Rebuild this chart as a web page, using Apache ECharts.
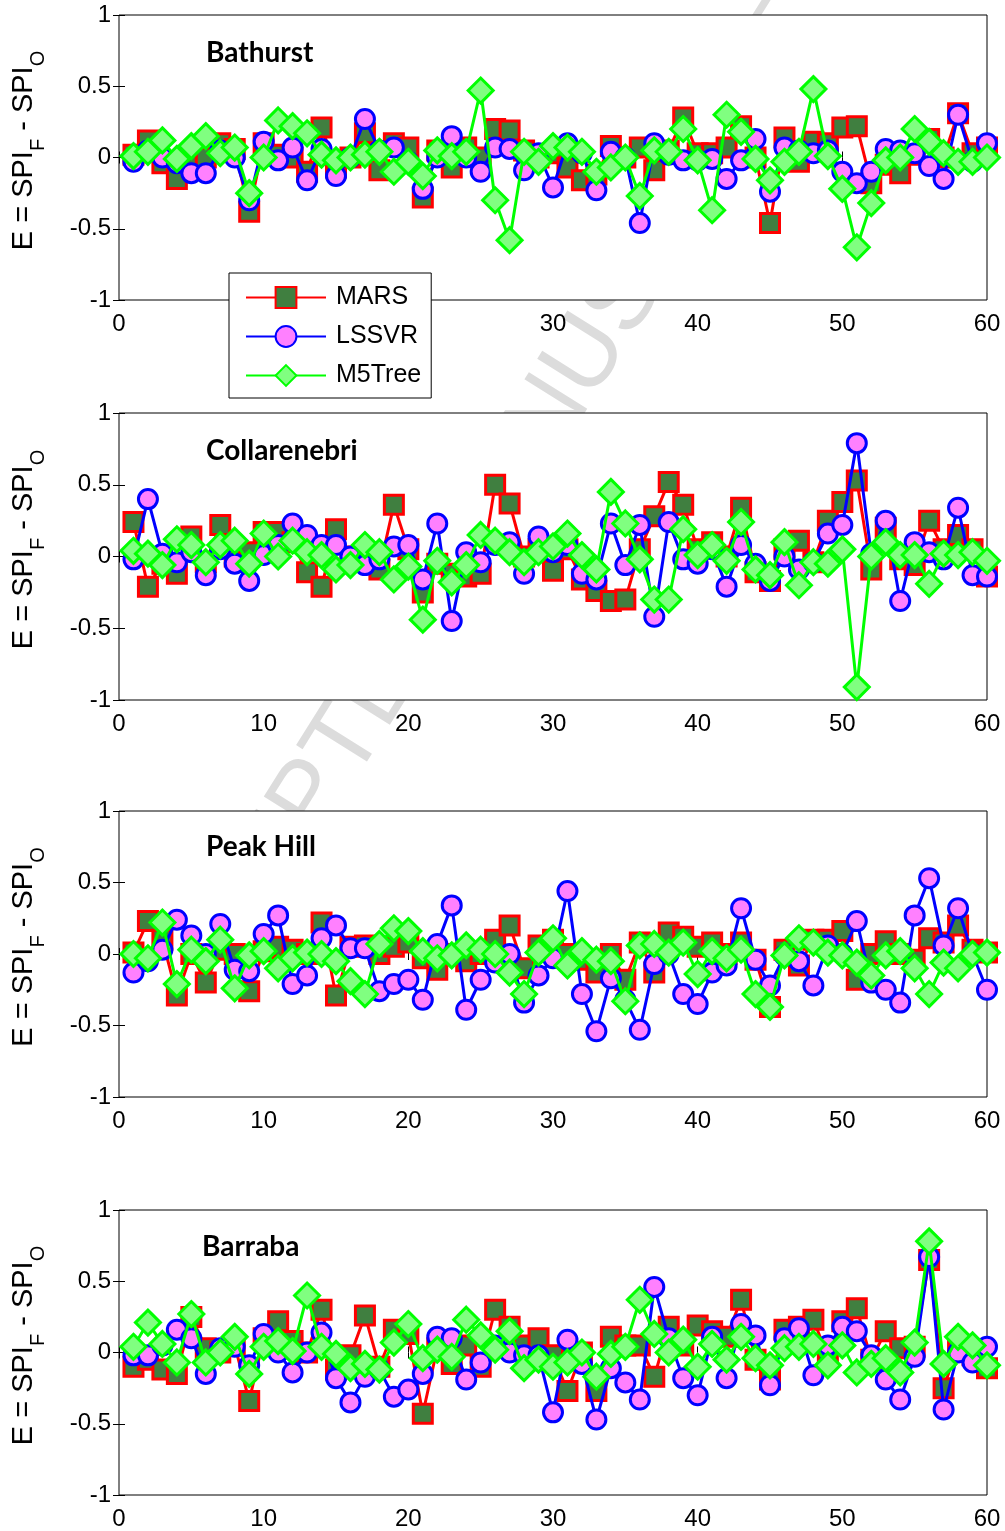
<!DOCTYPE html>
<html>
<head>
<meta charset="utf-8">
<script src="https://cdn.jsdelivr.net/npm/echarts@6/dist/echarts.min.js"></script>
<style>
  html, body { margin: 0; padding: 0; background: #fff; }
  #chart { width: 1005px; height: 1531px; }
</style>
</head>
<body>
<div id="chart"></div>
<script>
// Forecast error E = SPI_F - SPI_O for each test month, four stations, three models
const months = [1,2,3,4,5,6,7,8,9,10,11,12,13,14,15,16,17,18,19,20,
  21,22,23,24,25,26,27,28,29,30,31,32,33,34,35,36,37,38,39,40,
  41,42,43,44,45,46,47,48,49,50,51,52,53,54,55,56,57,58,59,60];
const xTicks = [0, 10, 20, 30, 40, 50, 60];
const yTicks = [-1, -0.5, 0, 0.5, 1];
const stations = ['Bathurst', 'Collarenebri', 'Peak Hill', 'Barraba'];
const models = ['MARS', 'LSSVR', 'M5Tree'];
// y-axis title pieces: [text, isSubscript]
const yTitleParts = [['E = SPI', false], ['F', true], [' - SPI', false], ['O', true]];

const bathurstMARS = [0.02,0.12,-0.04,-0.15,0.0,0.0,0.1,0.06,-0.38,0.1,
  0.02,0.0,-0.1,0.21,-0.07,0.0,0.17,-0.09,0.1,0.07,
  -0.28,0.05,-0.07,0.07,0.0,0.2,0.19,0.05,0.0,0.03,
  -0.07,-0.16,-0.12,0.08,0.0,0.07,-0.09,0.05,0.28,0.03,
  0.03,0.07,0.22,0.0,-0.46,0.14,-0.03,0.11,0.1,0.21,
  0.22,-0.18,-0.05,-0.11,0.02,0.13,0.0,0.31,0.03,0.07];
const bathurstLSSVR = [-0.03,0.05,0.0,-0.04,-0.11,-0.11,0.05,0.0,-0.3,0.11,
  -0.02,0.07,-0.16,0.06,-0.13,0.0,0.27,0.05,0.07,-0.03,
  -0.22,0.0,0.15,0.0,-0.1,0.07,0.06,-0.09,0.03,-0.21,
  0.1,0.03,-0.23,0.04,0.0,-0.46,0.1,0.02,-0.02,-0.02,
  -0.01,-0.15,-0.02,0.13,-0.24,0.07,0.05,0.03,0.05,-0.1,
  -0.18,-0.1,0.06,0.05,0.03,-0.06,-0.15,0.3,-0.03,0.1];
const bathurstM5Tree = [0.01,0.04,0.12,-0.01,0.08,0.15,0.03,0.07,-0.25,0.0,
  0.26,0.22,0.17,0.02,-0.02,0.0,0.02,0.04,-0.1,-0.03,
  -0.13,0.05,0.01,0.04,0.47,-0.3,-0.58,0.04,-0.03,0.08,
  0.07,0.04,-0.1,-0.07,0.0,-0.27,0.05,0.04,0.2,-0.02,
  -0.37,0.3,0.18,-0.01,-0.16,-0.03,0.04,0.48,0.01,-0.22,
  -0.63,-0.32,-0.02,0.0,0.2,0.11,0.03,-0.03,-0.03,0.0];

const collarenebriMARS = [0.24,-0.21,-0.05,-0.12,0.14,-0.04,0.22,0.0,0.03,0.17,
  0.17,0.1,-0.11,-0.21,0.19,0.0,0.02,-0.09,0.36,0.05,
  -0.25,-0.05,-0.12,-0.14,-0.12,0.5,0.37,0.0,0.05,-0.1,
  0.05,-0.16,-0.24,-0.31,-0.3,0.05,0.28,0.52,0.36,0.05,
  0.1,0.0,0.34,-0.11,-0.17,0.05,0.11,-0.04,0.25,0.38,
  0.53,-0.09,0.2,-0.02,-0.06,0.25,0.05,0.15,0.05,-0.14];
const collarenebriLSSVR = [-0.02,0.4,0.02,-0.04,0.03,-0.13,0.05,-0.05,-0.17,0.01,
  0.08,0.23,0.15,0.08,0.08,0.0,-0.06,-0.02,0.07,0.08,
  -0.16,0.23,-0.45,0.03,-0.04,0.08,0.1,-0.12,0.14,0.03,
  0.08,-0.12,-0.16,0.23,-0.06,0.22,-0.42,0.24,-0.02,-0.05,
  0.05,-0.21,0.08,-0.05,-0.17,0.0,-0.09,-0.04,0.16,0.22,
  0.79,0.02,0.25,-0.31,0.1,0.03,-0.02,0.34,-0.13,-0.14];
const collarenebriM5Tree = [0.04,0.02,-0.06,0.12,0.08,-0.04,0.08,0.11,-0.05,0.16,
  0.0,0.11,0.03,0.01,-0.09,-0.06,0.08,0.03,-0.16,-0.07,
  -0.44,-0.03,-0.18,-0.06,0.15,0.11,0.03,-0.04,0.03,0.07,
  0.16,0.01,-0.09,0.45,0.23,-0.02,-0.3,-0.3,0.19,0.01,
  0.08,-0.03,0.24,-0.09,-0.13,0.1,-0.2,-0.04,-0.05,0.05,
  -0.91,0.0,0.1,0.01,0.01,-0.19,0.02,0.01,0.03,-0.03];

const peakHillMARS = [0.01,0.23,0.1,-0.29,0.0,-0.2,0.03,0.0,-0.26,0.02,
  0.05,0.03,0.0,0.22,-0.29,0.05,0.06,0.0,0.05,0.08,
  -0.03,-0.11,0.0,-0.05,0.0,0.1,0.2,-0.1,0.06,0.1,
  0.0,-0.04,-0.13,0.0,-0.18,0.08,-0.13,0.15,0.12,0.05,
  0.08,0.0,0.08,-0.04,-0.37,0.03,-0.08,0.1,0.1,0.16,
  -0.18,0.0,0.09,0.0,-0.04,0.11,0.08,0.2,0.03,0.01];
const peakHillLSSVR = [-0.13,-0.05,0.03,0.24,0.13,0.0,0.21,-0.11,-0.12,0.14,
  0.27,-0.21,-0.15,0.11,0.2,0.04,0.04,-0.26,-0.21,-0.18,
  -0.32,0.07,0.34,-0.39,-0.18,-0.06,0.0,-0.34,-0.15,-0.03,
  0.44,-0.28,-0.54,-0.17,-0.32,-0.53,-0.07,0.0,-0.28,-0.35,
  -0.13,-0.08,0.32,-0.04,-0.22,-0.01,-0.05,-0.22,0.06,0.0,
  0.23,-0.2,-0.25,-0.34,0.27,0.53,0.06,0.32,0.0,-0.25];
const peakHillM5Tree = [0.0,-0.03,0.22,-0.21,0.03,-0.05,0.1,-0.24,-0.01,0.02,
  -0.1,-0.03,0.01,0.0,-0.05,-0.19,-0.28,0.07,0.18,0.16,
  0.02,-0.03,-0.01,0.06,0.03,0.0,-0.13,-0.28,0.01,0.11,
  -0.08,0.02,-0.04,-0.05,-0.33,0.06,0.07,0.01,0.08,-0.14,
  0.02,-0.03,0.03,-0.28,-0.37,-0.01,0.11,0.08,0.01,-0.01,
  -0.06,-0.15,-0.01,0.02,-0.1,-0.28,-0.06,-0.1,0.0,0.01];

const barrabaMARS = [-0.1,-0.05,-0.12,-0.15,0.25,0.03,0.0,0.05,-0.34,0.1,
  0.22,0.08,0.0,0.3,-0.12,-0.02,0.26,-0.1,0.16,0.13,
  -0.43,0.03,-0.08,0.05,-0.1,0.3,0.18,0.05,0.1,-0.02,
  -0.27,0.0,-0.27,0.11,0.05,0.05,-0.17,0.18,0.05,0.19,
  0.15,0.11,0.37,-0.05,-0.19,0.16,0.18,0.23,-0.03,0.22,
  0.31,-0.05,0.15,0.03,0.04,0.65,-0.25,0.05,-0.02,-0.11];
const barrabaLSSVR = [-0.02,-0.02,0.05,0.16,0.1,-0.15,0.03,0.04,-0.09,0.13,
  0.0,-0.14,0.0,0.14,-0.18,-0.35,-0.17,-0.12,-0.31,-0.26,
  -0.15,0.11,0.1,-0.19,-0.07,0.05,0.0,-0.02,-0.02,-0.42,
  0.09,-0.08,-0.47,-0.11,-0.21,-0.33,0.46,0.1,-0.18,-0.3,
  0.11,-0.18,0.2,0.12,-0.23,0.1,0.17,-0.16,0.05,0.18,
  0.15,-0.02,-0.19,-0.33,-0.03,0.67,-0.4,0.0,-0.07,0.04];
const barrabaM5Tree = [0.04,0.21,0.06,-0.07,0.27,-0.07,0.0,0.11,-0.15,0.04,
  0.08,0.01,0.4,0.04,-0.01,-0.11,-0.08,-0.12,0.07,0.2,
  -0.04,0.02,-0.03,0.23,0.12,0.02,0.15,-0.11,-0.05,-0.1,
  -0.07,0.0,-0.17,-0.01,0.04,0.37,0.13,0.0,0.09,-0.1,
  0.06,-0.05,0.11,-0.04,-0.09,0.03,0.04,0.06,-0.09,0.05,
  -0.14,-0.08,-0.04,-0.14,0.07,0.78,-0.08,0.11,0.05,-0.09];

const panelValues = [
  [bathurstMARS, bathurstLSSVR, bathurstM5Tree],
  [collarenebriMARS, collarenebriLSSVR, collarenebriM5Tree],
  [peakHillMARS, peakHillLSSVR, peakHillM5Tree],
  [barrabaMARS, barrabaLSSVR, barrabaM5Tree]
];

// Layout of the four stacked plot boxes
const gridTops = [15, 413, 811, 1210];
const gridHeights = [285, 287, 286, 285];
const titleY = [53, 451, 847, 1247];
const titleX = [206, 206, 206, 202];

const tickFont = 'Liberation Sans, Arial, sans-serif';
const mainSize = 29, subSize = 20;
const mainX = 24, subX = 38;
const modelStyles = [
  { symbol: 'rect', symbolSize: 19, fill: '#407f40', edge: '#ff0000' },
  { symbol: 'circle', symbolSize: 19, fill: '#ff80ff', edge: '#0000ff' },
  { symbol: 'diamond', symbolSize: 25, fill: '#80ff80', edge: '#00ff00' }
];

const measureCtx = document.createElement('canvas').getContext('2d');
function textWidth(str, size) {
  measureCtx.font = size + 'px ' + tickFont;
  return measureCtx.measureText(str).width;
}

const grids = [], xAxes = [], yAxes = [], series = [], graphics = [];

// Faint diagonal stamp behind the plot boxes
graphics.push({
  type: 'text', x: 474, y: 538, rotation: 58 * Math.PI / 180, z: -10,
  style: { text: 'ACCEPTED MANUSCRIPT', fontSize: 100, fontFamily: tickFont,
    fill: '#dcdcdc', align: 'center', verticalAlign: 'middle' }
});

const tickBase = { show: true, inside: true, length: 6, lineStyle: { color: '#000', width: 1 } };

stations.forEach((name, g) => {
  grids.push({
    left: 119, right: 18, top: gridTops[g], height: gridHeights[g],
    containLabel: false, outerBoundsMode: 'none',
    show: true, backgroundColor: '#fff', borderColor: '#000', borderWidth: 1
  });
  const xCommon = {
    type: 'value', gridIndex: g, min: xTicks[0], max: xTicks[xTicks.length - 1], interval: 10,
    axisLine: { show: false }, axisTick: tickBase, splitLine: { show: false }
  };
  xAxes.push(Object.assign({}, xCommon, {
    position: 'bottom',
    axisLabel: { show: true, fontSize: 24, color: '#000', fontFamily: tickFont, margin: 12 }
  }));
  xAxes.push(Object.assign({}, xCommon, { position: 'top', axisLabel: { show: false } }));
  const yCommon = {
    type: 'value', gridIndex: g, min: yTicks[0], max: yTicks[yTicks.length - 1], interval: 0.5,
    axisLine: { show: false }, axisTick: tickBase, splitLine: { show: false }
  };
  yAxes.push(Object.assign({}, yCommon, {
    position: 'left',
    axisLabel: { show: true, fontSize: 24, color: '#000', fontFamily: tickFont, margin: 8 }
  }));
  yAxes.push(Object.assign({}, yCommon, { position: 'right', axisLabel: { show: false } }));

  models.forEach((m, k) => {
    const st = modelStyles[k];
    const vals = panelValues[g][k];
    series.push({
      name: m, type: 'line', xAxisIndex: 2 * g, yAxisIndex: 2 * g,
      data: months.map((mo, i) => [mo, vals[i]]),
      symbol: st.symbol, symbolSize: st.symbolSize, showAllSymbol: true,
      clip: false, z: 2 + k,
      lineStyle: { color: st.edge, width: 3 },
      itemStyle: { color: st.fill, borderColor: st.edge, borderWidth: 3 },
      emphasis: { disabled: true }
    });
  });

  // Station name inside the box
  graphics.push({
    type: 'text', x: titleX[g], y: titleY[g], z: 10,
    style: { text: name, fontSize: 28, fontWeight: 'bold', fontFamily: 'Lato, sans-serif',
      fill: '#000', verticalAlign: 'middle' }
  });

  // Rotated y-axis title with lowered subscripts, read bottom to top
  const widths = yTitleParts.map(p => textWidth(p[0], p[1] ? subSize : mainSize));
  const total = widths.reduce((a, b) => a + b, 0);
  let yPos = gridTops[g] + gridHeights[g] / 2 - 7 + total / 2;
  yTitleParts.forEach((p, k) => {
    graphics.push({
      type: 'text', x: p[1] ? subX : mainX, y: yPos, rotation: Math.PI / 2, z: 10,
      style: { text: p[0], fontSize: p[1] ? subSize : mainSize, fontFamily: tickFont,
        fill: '#000', align: 'left', verticalAlign: 'middle' }
    });
    yPos -= widths[k];
  });
});

const chart = echarts.init(document.getElementById('chart'), null, { renderer: 'canvas' });
chart.setOption({
  animation: false,
  backgroundColor: '#fff',
  grid: grids,
  xAxis: xAxes,
  yAxis: yAxes,
  series: series,
  graphic: graphics,
  legend: {
    data: models, orient: 'vertical', left: 229, top: 273, z: 20,
    itemWidth: 80, itemHeight: 26, itemGap: 14,
    padding: [12, 10, 10, 16],
    backgroundColor: '#fff', borderColor: '#000', borderWidth: 1,
    textStyle: { fontSize: 25, color: '#000', fontFamily: tickFont, padding: [0, 0, 0, 5] },
    selectedMode: false
  }
});
</script>
</body>
</html>
